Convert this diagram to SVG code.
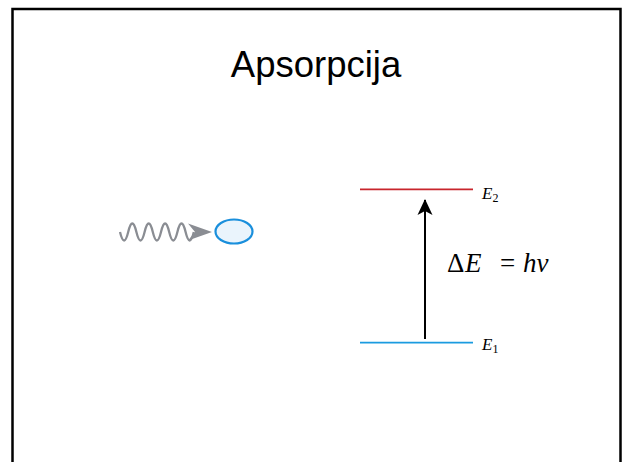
<svg xmlns="http://www.w3.org/2000/svg" width="624" height="462" viewBox="0 0 624 462">
<defs>
<style>
.title{font-family:"Liberation Sans",Arial,sans-serif;font-size:36.5px;fill:#000}
.math{font-family:"Liberation Serif","Times New Roman",serif;font-style:italic;fill:#000}
</style>
<marker id="ah" viewBox="0 0 16 16" refX="15" refY="8" markerWidth="16" markerHeight="16" markerUnits="userSpaceOnUse" orient="auto">
<path d="M0,0.5 L16,8 L0,15.5 L4,8 Z" fill="#000"/>
</marker>
</defs>
<rect x="0" y="0" width="624" height="462" fill="#fff"/>
<rect x="12.5" y="9" width="608" height="470" fill="none" stroke="#000" stroke-width="2.5"/>
<g id="title"><text class="title" x="316" y="77" text-anchor="middle">Apsorpcija</text></g>
<g id="photon">
<path d="M120,232 q4.1,17 8.2,0 t8.2,0 t8.2,0 t8.2,0 t8.2,0 t8.2,0 t8.2,0 t8.2,0 t8.2,0" fill="none" stroke="#8a8d93" stroke-width="2.3" stroke-linejoin="round"/>
<path d="M212,232 L188,223.5 L195,232 L188,240.5 Z" fill="#8a8d93"/>
</g>
<g id="atom"><ellipse cx="234" cy="231.5" rx="18.5" ry="12" fill="#eaf4fc" stroke="#1a8fdc" stroke-width="2.2"/></g>
<g id="level-e2">
<line x1="360" y1="189.3" x2="473" y2="189.3" stroke="#c8252c" stroke-width="1.8"/>
<text class="math" x="482" y="199" font-size="17">E<tspan font-style="normal" font-size="12" dy="3">2</tspan></text>
</g>
<g id="level-e1">
<line x1="360" y1="342.7" x2="473" y2="342.7" stroke="#1a9be0" stroke-width="1.8"/>
<text class="math" x="482" y="350" font-size="17">E<tspan font-style="normal" font-size="12" dy="3">1</tspan></text>
</g>
<g id="connectors">
<line x1="425" y1="339" x2="425" y2="200" stroke="#000" stroke-width="2" marker-end="url(#ah)"/>
</g>
<g id="formula">
<text class="math" y="272" font-size="27"><tspan x="447" font-style="normal">Δ</tspan><tspan x="465">E</tspan><tspan x="500" font-style="normal">=</tspan><tspan x="523">hν</tspan></text>
</g>
</svg>
